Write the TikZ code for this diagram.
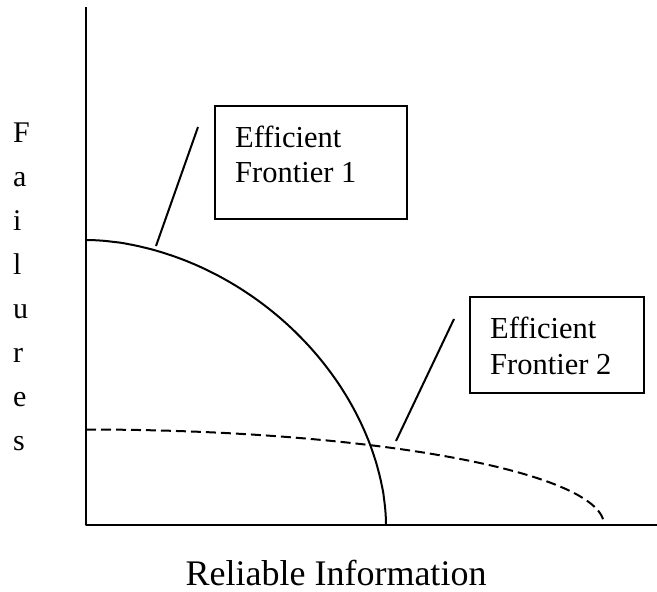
\documentclass[tikz,border=0pt]{standalone}
\usepackage{fontspec}
\setmainfont{Liberation Serif}
\begin{document}
\begin{tikzpicture}[x=1pt,y=-1pt,
  ln/.style={line width=2pt, line join=round},
  dashln/.style={line width=2pt, dash pattern=on 10pt off 5pt},
  frame/.style={draw, line width=2pt, inner sep=0pt, anchor=north west},
  boxtext/.style={anchor=base west, inner sep=0pt, font=\fontsize{30.5}{36}\selectfont},
  vletter/.style={anchor=base west, inner sep=0pt, font=\fontsize{30}{36}\selectfont},
  axlabel/.style={anchor=base, inner sep=0pt, font=\fontsize{36}{42}\selectfont}]
\useasboundingbox (0,0) rectangle (657,592);
% axes
\coordinate (ytop) at (86,7);
\coordinate (O) at (86,525);
\coordinate (xend) at (657,525);
\draw[ln] (ytop) -- (O) -- (xend);
% frontier 1 (solid)
\draw[ln] (86,240) -- plot[domain=89.5:0.5, samples=120, smooth] ({86+300*pow(cos(\x),1.081)}, {525-285*pow(sin(\x),1.081)}) -- (386,525);
% frontier 2 (dashed)
\draw[dashln] plot[domain=90:0, samples=120, smooth] ({86+518*cos(\x)}, {525-95.5*sin(\x)});
% boxes
\node[frame, minimum width=192pt, minimum height=113pt] (box1) at (214,105) {};
\node[boxtext] (b1l1) at (235,147) {Efficient};
\node[boxtext] (b1l2) at (235,182) {Frontier 1};
\node[frame, minimum width=174pt, minimum height=96pt] (box2) at (469,296) {};
\node[boxtext] (b2l1) at (490,338) {Efficient};
\node[boxtext] (b2l2) at (490,374) {Frontier 2};
% leaders
\coordinate (l1a) at (198,127);
\coordinate (l1b) at (156,246);
\draw[ln] (l1a) -- (l1b);
\coordinate (l2a) at (454,319);
\coordinate (l2b) at (396,441);
\draw[ln] (l2a) -- (l2b);
% y label
\node[vletter] (f1) at (13,142) {F};
\node[vletter] (f2) at (13,186) {a};
\node[vletter] (f3) at (13,230) {i};
\node[vletter] (f4) at (13,274) {l};
\node[vletter] (f5) at (13,318) {u};
\node[vletter] (f6) at (13,362) {r};
\node[vletter] (f7) at (13,406) {e};
\node[vletter] (f8) at (13,450) {s};
% x label
\node[axlabel] (xl) at (336,585) {Reliable Information};
\end{tikzpicture}
\end{document}
